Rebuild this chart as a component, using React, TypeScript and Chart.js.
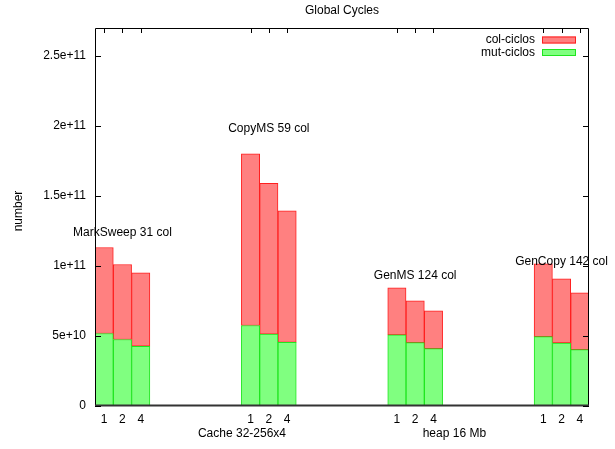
import React, { useEffect, useRef } from "react";
import { Chart, registerables } from "chart.js";

Chart.register(...registerables);

// ---- data ----
const chartTitle = "Global Cycles";
const yTitle = "number";
const xTitle = "Cache 32-256x4" + " ".repeat(41) + "heap 16 Mb";
const groups = ["MarkSweep 31 col", "CopyMS 59 col", "GenMS 124 col", "GenCopy 142 col"];
const groupLabelValues = [1.24e11, 1.98e11, 9.3e10, 1.034e11];
const sizes = ["1", "2", "4"];
const seriesNames = ["col-ciclos", "mut-ciclos"];
// per bar, group by group (MarkSweep 1,2,4 / CopyMS 1,2,4 / GenMS 1,2,4 / GenCopy 1,2,4)
const mutCiclos = [
  5.18e10, 4.75e10, 4.27e10,
  5.75e10, 5.13e10, 4.55e10,
  5.08e10, 4.53e10, 4.1e10,
  4.96e10, 4.5e10, 4.03e10,
];
const colCiclos = [
  6.14e10, 5.36e10, 5.24e10,
  1.226e11, 1.077e11, 9.39e10,
  3.36e10, 2.98e10, 2.69e10,
  5.19e10, 4.58e10, 4.05e10,
];
const yTickValues = [0, 5e10, 1e11, 1.5e11, 2e11, 2.5e11];
const yMax = 2.7e11;
const gapSlots = 5;

const FONT = "'Liberation Sans', Arial, sans-serif";

export default function App() {
  const ref = useRef<HTMLCanvasElement | null>(null);

  useEffect(() => {
    document.body.style.margin = "0";
    const canvas = ref.current;
    if (!canvas) return;

    const labels: string[] = [];
    const mutData: (number | null)[] = [];
    const colData: (number | null)[] = [];
    const groupCenters: number[] = [];
    const barSlots: number[] = [];
    groups.forEach((g, gi) => {
      if (gi > 0) {
        for (let k = 0; k < gapSlots; k++) {
          labels.push("");
          mutData.push(null);
          colData.push(null);
        }
      }
      sizes.forEach((s, si) => {
        if (si === 1) groupCenters.push(labels.length);
        barSlots.push(labels.length);
        labels.push(s);
        mutData.push(mutCiclos[gi * sizes.length + si]);
        colData.push(colCiclos[gi * sizes.length + si]);
      });
    });

    const red = "#ff8080";
    const redBorder = "#ff1f1f";
    const green = "#80ff80";
    const greenBorder = "#1fe61f";

    const decor = {
      id: "decor",
      afterDraw(chart: any) {
        const ctx = chart.ctx as CanvasRenderingContext2D;
        const a = chart.chartArea;
        const xs = chart.scales.x;
        const ys = chart.scales.y;
        ctx.save();
        ctx.strokeStyle = "#000";
        ctx.lineWidth = 1;
        ctx.beginPath();
        ctx.moveTo(a.left + 0.5, a.bottom);
        ctx.lineTo(a.left + 0.5, a.top + 0.5);
        ctx.lineTo(a.right - 0.5, a.top + 0.5);
        ctx.lineTo(a.right - 0.5, a.bottom);
        ctx.stroke();
        ctx.strokeStyle = "#333";
        ctx.lineWidth = 2;
        ctx.beginPath();
        ctx.moveTo(a.left, a.bottom - 0.5);
        ctx.lineTo(a.right, a.bottom - 0.5);
        ctx.stroke();
        ctx.strokeStyle = "#000";
        ctx.lineWidth = 1;
        ctx.beginPath();
        yTickValues.forEach((v) => {
          const y = Math.round(ys.getPixelForValue(v)) + 0.5;
          ctx.moveTo(a.left, y);
          ctx.lineTo(a.left + 6, y);
          ctx.moveTo(a.right, y);
          ctx.lineTo(a.right - 6, y);
        });
        barSlots.forEach((i) => {
          const x = Math.round(xs.getPixelForValue(i)) + 0.5;
          ctx.moveTo(x, a.top);
          ctx.lineTo(x, a.top + 5);
        });
        ctx.stroke();

        ctx.fillStyle = "#000";
        ctx.font = `12px ${FONT}`;
        ctx.textAlign = "center";
        ctx.textBaseline = "middle";
        groups.forEach((g, gi) => {
          ctx.fillText(g, xs.getPixelForValue(groupCenters[gi]), ys.getPixelForValue(groupLabelValues[gi]));
        });
        ctx.fillText(chartTitle, (a.left + a.right) / 2, 11);
        ctx.fillText(xTitle, (a.left + a.right) / 2, 434);
        ctx.save();
        ctx.translate(19, (a.top + a.bottom) / 2 - 6);
        ctx.rotate(-Math.PI / 2);
        ctx.fillText(yTitle, 0, 0);
        ctx.restore();
        const fills = [red, green];
        const borders = [redBorder, greenBorder];
        seriesNames.forEach((n, i) => {
          const cy = a.top + 12 + i * 12.5;
          ctx.textAlign = "right";
          ctx.fillStyle = "#000";
          ctx.fillText(n, a.right - 54, cy);
          ctx.fillStyle = fills[i];
          ctx.fillRect(a.right - 47, cy - 3.5, 34, 7);
          ctx.strokeStyle = borders[i];
          ctx.lineWidth = 1;
          ctx.strokeRect(a.right - 47 + 0.5, cy - 3.5 + 0.5, 33, 6);
        });
        ctx.restore();
      },
    };

    const chart = new Chart(canvas, {
      type: "bar",
      data: {
        labels,
        datasets: [
          {
            label: seriesNames[1],
            data: mutData,
            backgroundColor: green,
            borderColor: greenBorder,
            borderWidth: 1,
            borderSkipped: false,
            barPercentage: 1,
            categoryPercentage: 1,
          },
          {
            label: seriesNames[0],
            data: colData,
            backgroundColor: red,
            borderColor: redBorder,
            borderWidth: 1,
            borderSkipped: false,
            barPercentage: 1,
            categoryPercentage: 1,
          },
        ],
      },
      options: {
        animation: false,
        responsive: false,
        devicePixelRatio: 1,
        layout: { padding: { left: 0, right: 26, top: 28, bottom: 0 } },
        plugins: {
          legend: { display: false },
          title: { display: false },
          tooltip: { enabled: false },
        },
        scales: {
          x: {
            stacked: true,
            offset: true,
            grid: { display: false, drawTicks: false },
            border: { display: false },
            ticks: {
              autoSkip: false,
              maxRotation: 0,
              padding: 6,
              color: "#000",
              font: { family: FONT, size: 12 },
            },
            afterFit: (s: any) => {
              s.height = 43;
            },
          },
          y: {
            stacked: true,
            min: 0,
            max: yMax,
            grid: { display: false, drawTicks: false },
            border: { display: false },
            afterBuildTicks: (s: any) => {
              s.ticks = yTickValues.map((v) => ({ value: v }));
            },
            ticks: {
              padding: 9,
              color: "#000",
              font: { family: FONT, size: 12 },
              callback: (v: any) => (Number(v) === 0 ? "0" : Number(v).toExponential()),
            },
            afterFit: (s: any) => {
              s.width = 95;
            },
          },
        },
      },
      plugins: [decor],
    });
    return () => chart.destroy();
  }, []);

  return (
    <div style={{ width: 615, height: 449 }}>
      <canvas ref={ref} width={615} height={449} style={{ display: "block" }} />
    </div>
  );
}
